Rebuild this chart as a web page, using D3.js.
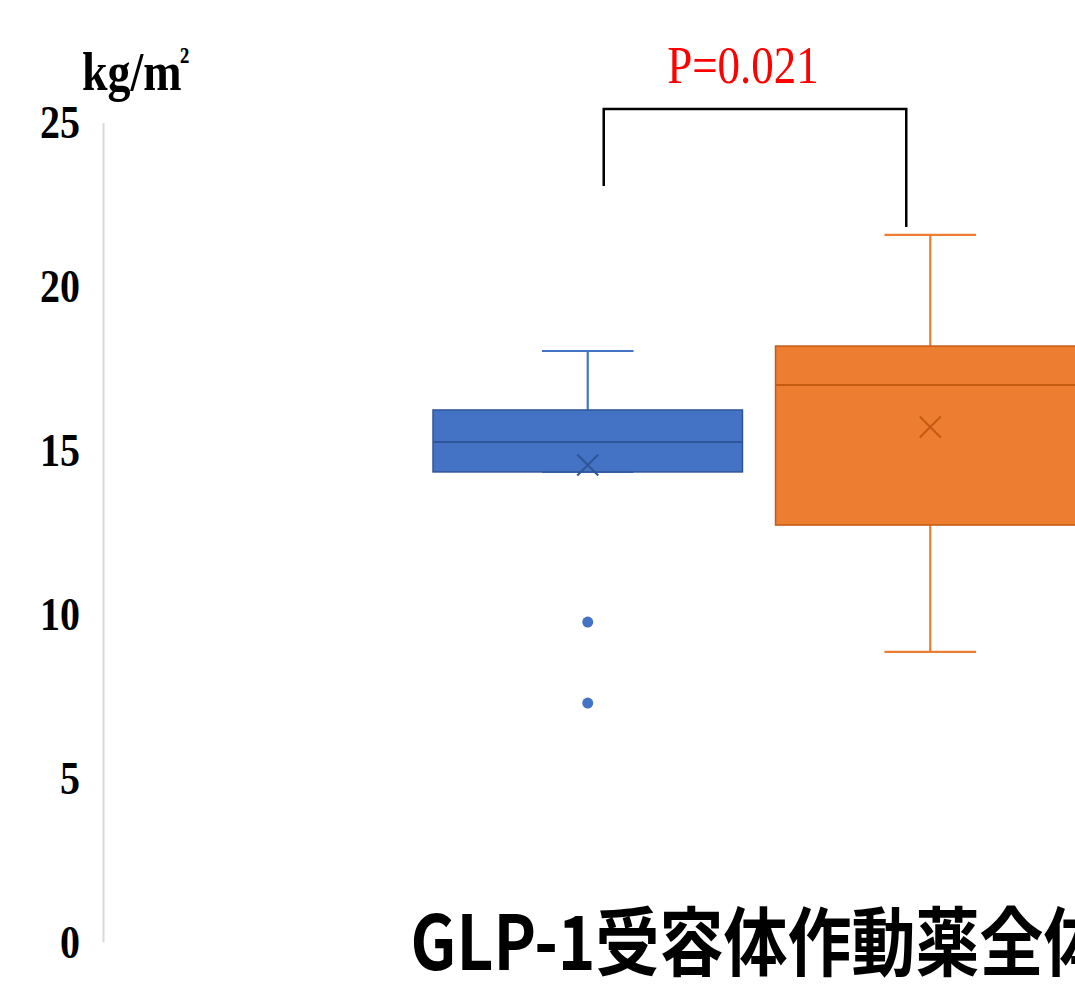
<!DOCTYPE html>
<html>
<head>
<meta charset="utf-8">
<script src="https://cdn.jsdelivr.net/npm/d3@7"></script>
<style>
  body { margin: 0; background: #fff; }
  #chart { width: 1075px; height: 985px; overflow: hidden; }
</style>
</head>
<body>
<div id="chart"></div>
<script>
// data
var category = "GLP-1受容体作動薬全体";
var seriesNames = ["group1", "group2"];
var seriesColors = ["#4472C4", "#ED7D31"];
var seriesDark = ["#2F5597", "#C55A11"];
var whiskerLow = [14.34, 8.85];
var q1 = [14.34, 12.72];
var median = [15.25, 16.99];
var q3 = [16.23, 18.18];
var whiskerHigh = [18.03, 21.57];
var means = [14.55, 15.71];
var outliers = [[9.76, 7.29], []];
var yTicks = [0, 5, 10, 15, 20, 25];
var unitLabel = "kg/m";
var pLabel = "P=0.021";
var bracketTop = 25.41;
var bracketEnds = [23.06, 21.81];

var width = 1075, height = 985;
var stretch = 1.18; // the original is squashed a bit vertically

var svg = d3.select("#chart")
  .append("svg")
  .attr("width", width)
  .attr("height", height);

var y = d3.scaleLinear()
  .domain([0, 25])
  .range([942, 122.5]);

var xOuter = d3.scaleBand()
  .domain([category])
  .range([411, 1107]);

var xInner = d3.scaleBand()
  .domain(seriesNames)
  .range([22, 674])
  .paddingInner(0.0965);

// y axis
var yAxis = svg.append("g")
  .attr("transform", "translate(103,0)")
  .call(d3.axisLeft(y).tickValues(yTicks).tickSize(0).tickSizeOuter(0).tickPadding(23));

yAxis.select(".domain")
  .attr("stroke", "#d9d9d9")
  .attr("stroke-width", 2);

yAxis.selectAll("text")
  .attr("transform", "scale(1," + stretch + ")")
  .style("font-family", "'Liberation Serif', 'Times New Roman', serif")
  .style("font-weight", "bold")
  .style("font-size", "40px")
  .attr("fill", "#000");

// unit label
var unit = svg.append("text")
  .attr("transform", "translate(82,90) scale(1," + stretch + ")")
  .style("font-family", "'Liberation Serif', 'Times New Roman', serif")
  .style("font-weight", "bold")
  .style("font-size", "46px")
  .text(unitLabel);
unit.append("tspan")
  .attr("dy", "-14px")
  .attr("dx", "-2px")
  .style("font-size", "32px")
  .text("²");

// boxes
var g = svg.append("g")
  .attr("transform", "translate(" + xOuter(category) + ",0)");

var boxW = xInner.bandwidth();
var capHalf = boxW * 0.148;

seriesNames.forEach(function(name, i){
  var cx = xInner(name) + boxW / 2;
  var col = seriesColors[i], dark = seriesDark[i];

  // whiskers
  g.append("line")
    .attr("x1", cx).attr("x2", cx)
    .attr("y1", y(whiskerHigh[i])).attr("y2", y(q3[i]))
    .attr("stroke", col).attr("stroke-width", 2.2);
  g.append("line")
    .attr("x1", cx).attr("x2", cx)
    .attr("y1", y(q1[i])).attr("y2", y(whiskerLow[i]))
    .attr("stroke", col).attr("stroke-width", 2.2);
  g.append("line")
    .attr("x1", cx - capHalf).attr("x2", cx + capHalf)
    .attr("y1", y(whiskerHigh[i])).attr("y2", y(whiskerHigh[i]))
    .attr("stroke", col).attr("stroke-width", 2.2);
  g.append("line")
    .attr("x1", cx - capHalf).attr("x2", cx + capHalf)
    .attr("y1", y(whiskerLow[i])).attr("y2", y(whiskerLow[i]))
    .attr("stroke", col).attr("stroke-width", 2.2);

  // box
  g.append("rect")
    .attr("x", xInner(name))
    .attr("y", y(q3[i]))
    .attr("width", boxW)
    .attr("height", y(q1[i]) - y(q3[i]))
    .attr("fill", col)
    .attr("stroke", dark)
    .attr("stroke-width", 1.5);

  // median
  g.append("line")
    .attr("x1", xInner(name)).attr("x2", xInner(name) + boxW)
    .attr("y1", y(median[i])).attr("y2", y(median[i]))
    .attr("stroke", dark).attr("stroke-width", 2);

  // mean marker
  var my = y(means[i]), s = 10.5;
  g.append("path")
    .attr("d", "M" + (cx - s) + "," + (my - s) + "L" + (cx + s) + "," + (my + s) +
               "M" + (cx - s) + "," + (my + s) + "L" + (cx + s) + "," + (my - s))
    .attr("stroke", dark).attr("stroke-width", 2).attr("fill", "none");

  // outliers
  g.selectAll(".out" + i)
    .data(outliers[i])
    .enter()
    .append("circle")
    .attr("cx", cx)
    .attr("cy", function(d){ return y(d); })
    .attr("r", 5.5)
    .attr("fill", col);
});

// significance bracket
var bx1 = xInner(seriesNames[0]) + boxW / 2 + 16;
var bx2 = xInner(seriesNames[1]) + boxW / 2 - 24;
g.append("path")
  .attr("d", "M" + bx1 + "," + y(bracketEnds[0]) + "V" + y(bracketTop) +
             "H" + bx2 + "V" + y(bracketEnds[1]))
  .attr("fill", "none")
  .attr("stroke", "#000")
  .attr("stroke-width", 2.5);

g.append("text")
  .attr("transform", "translate(" + ((bx1 + bx2) / 2 - 12) + ",83) scale(1," + stretch + ")")
  .style("text-anchor", "middle")
  .style("font-family", "'Liberation Serif', 'Times New Roman', serif")
  .style("font-size", "45px")
  .attr("fill", "#FF0000")
  .text(pLabel);

// category label (cut off on the right, as in the original)
svg.append("text")
  .attr("transform", "translate(" + (xOuter(category) + xOuter.bandwidth() / 2) + ",970) scale(1," + stretch + ")")
  .style("text-anchor", "middle")
  .style("font-family", "'Noto Sans CJK JP', sans-serif")
  .style("font-weight", "bold")
  .style("font-size", "64px")
  .attr("fill", "#000")
  .text(category);
</script>
</body>
</html>
